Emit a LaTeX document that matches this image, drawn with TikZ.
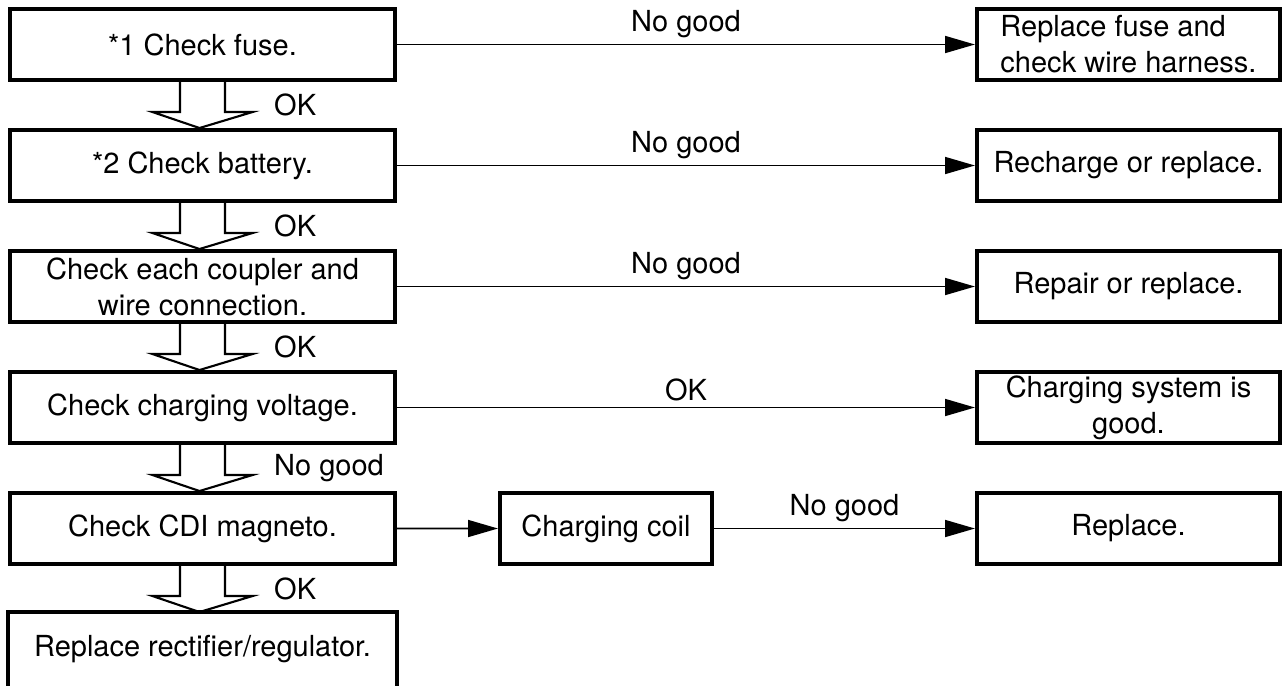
\documentclass[tikz,border=0pt]{standalone}
\usepackage{fontspec}
\setmainfont{TeX Gyre Heros}
\usetikzlibrary{arrows.meta,positioning}
\tikzset{
  >={Triangle[length=17pt,width=9.6pt]},
  stepbox/.style={draw,line width=2.3pt,minimum width=#1,minimum height=1.42cm,
    inner sep=2pt,align=center,font=\fontsize{16.5}{20.5}\selectfont},
  stepbox/.default=7.7cm,
  flow/.style={->,line width=1.1pt},
  tag/.style={font=\fontsize{16.5}{20.5}\selectfont},
  % hollow down arrow under a step
  pics/hollow/.style={code={
    \draw[line width=1.2pt,line join=miter] (-0.45,0) -- (-0.45,-0.6) -- (-1,-0.6)
      -- (-0.06,-0.92) -- (1,-0.6) -- (0.45,-0.6) -- (0.45,0);
  }},
}
\begin{document}
\begin{tikzpicture}
  \useasboundingbox (0,0) rectangle (25.74,-13.7);
  \foreach \i/\t in {1/{*1 Check fuse.},2/{*2 Check battery.},
    3/{Check each coupler and\\wire connection.},4/{Check charging voltage.},
    5/{Check CDI magneto.}}{
    \node[stepbox] (c\i) at (4.05,{-0.89-2.42*(\i-1)}) {\t};
  }
  % last step runs off the bottom edge
  \node[stepbox,draw=none] (c6) at (4.05,-12.99) {Replace rectifier/regulator.};
  \draw[line width=2.3pt] ([yshift=-0.4cm]c6.south west) |- (c6.north east)
    -- ([yshift=-0.4cm]c6.south east);

  \node[stepbox=6.06cm,align=left] (r1) at (22.57,-0.89) {Replace fuse and\\check wire harness.};
  \node[stepbox=6.06cm] (r2) at (22.57,-3.31) {Recharge or replace.};
  \node[stepbox=6.06cm] (r3) at (22.57,-5.73) {Repair or replace.};
  \node[stepbox=6.06cm] (r4) at (22.57,-8.15) {Charging system is\\good.};
  \node[stepbox=4.24cm] (coil) at (12.12,-10.57) {Charging coil};
  \node[stepbox=6.06cm] (r5) at (22.57,-10.57) {Replace.};

  \draw[flow] (c1) -- node[tag,above] {No good} (r1);
  \draw[flow] (c2) -- node[tag,above] {No good} (r2);
  \draw[flow] (c3) -- node[tag,above] {No good} (r3);
  \draw[flow] (c4) -- node[tag,above] {OK} (r4);
  \draw[flow] (c5) -- (coil);
  \draw[flow] (coil) -- node[tag,above] {No good} (r5);

  \foreach \i/\t in {1/OK,2/OK,3/OK,4/No good,5/OK}{
    \pic at (c\i.south) {hollow};
    \node[tag,anchor=west] (k\i) at ([xshift=1.31cm,yshift=-0.46cm]c\i.south) {\t};
  }
\end{tikzpicture}
\end{document}
